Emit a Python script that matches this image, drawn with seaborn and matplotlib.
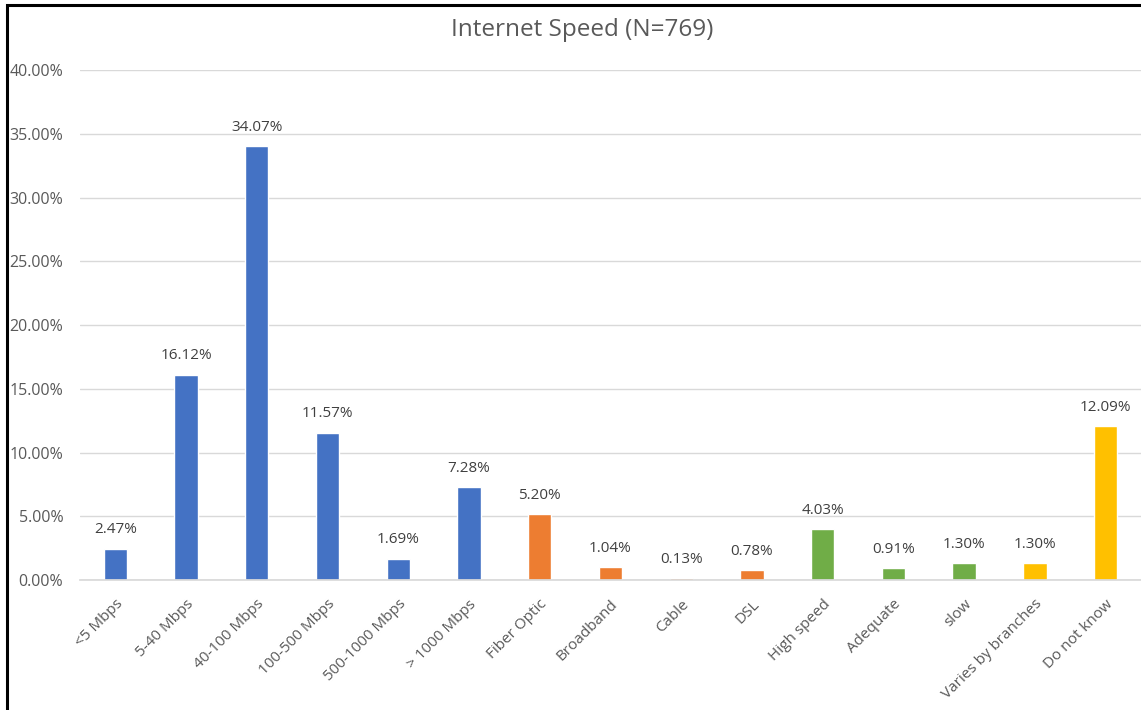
import matplotlib
matplotlib.use("Agg")
import matplotlib.pyplot as plt
import seaborn as sns
import pandas as pd
from matplotlib.patches import Rectangle

categories = ["<5 Mbps", "5-40 Mbps", "40-100 Mbps", "100-500 Mbps", "500-1000 Mbps",
              "> 1000 Mbps", "Fiber Optic", "Broadband", "Cable", "DSL", "High speed",
              "Adequate", "slow", "Varies by branches", "Do not know"]
values = [2.47, 16.12, 34.07, 11.57, 1.69, 7.28, 5.20, 1.04, 0.13, 0.78, 4.03,
          0.91, 1.30, 1.30, 12.09]
groups = ["speed"] * 6 + ["type"] * 4 + ["quality"] * 3 + ["other"] * 2
palette = {"speed": "#4472C4", "type": "#ED7D31", "quality": "#70AD47", "other": "#FFC000"}
yticks = [0, 5, 10, 15, 20, 25, 30, 35, 40]

df = pd.DataFrame({"cat": categories, "val": values, "grp": groups})

sns.set_theme(style="white")
plt.rcParams["font.family"] = ["Open Sans", "DejaVu Sans"]
txt = "#595959"

fig = plt.figure(figsize=(11.41, 7.10), dpi=100)
ax = fig.add_axes([0.0701, 0.183, 0.9299, 0.9014 - 0.183])

sns.barplot(data=df, x="cat", y="val", hue="grp", palette=palette, dodge=False,
            width=0.33, saturation=1, legend=False, ax=ax, order=categories)

ax.set_ylim(0, 40)
ax.set_xlim(-0.5, len(categories) - 0.5)
ax.set_yticks(yticks)
ax.set_yticklabels([f"{t:.2f}%" for t in yticks], color=txt, fontsize=11.5)
ax.yaxis.grid(True, color="#D9D9D9", linewidth=1)
ax.set_axisbelow(True)
for s in ["top", "right", "left"]:
    ax.spines[s].set_visible(False)
ax.spines["bottom"].set_color("#D9D9D9")
ax.tick_params(axis="y", length=0, pad=12)
ax.tick_params(axis="x", length=0, pad=12)
ax.set_xticks(range(len(categories)))
ax.set_xticklabels(categories, rotation=45, ha="right", rotation_mode="anchor",
                   color=txt, fontsize=11)
for lbl in ax.get_xticklabels():
    lbl.set_x(lbl.get_position()[0])
ax.set_xlabel("")
ax.set_ylabel("")

for i, v in enumerate(values):
    ax.annotate(f"{v:.2f}%", (i, v), xytext=(0, 8), textcoords="offset points",
                ha="center", va="bottom", color="#404040", fontsize=11)

fig.text(582 / 1141, 1 - 30 / 710, "Internet Speed (N=769)", ha="center", va="center",
         color=txt, fontsize=17.5)

fig.add_artist(Rectangle((7 / 1141, -0.1), 1.2, 1 - 5 / 710 + 0.1,
                         transform=fig.transFigure, fill=False, edgecolor="black",
                         linewidth=2.2, clip_on=False))

fig.savefig("out.png", dpi=100)
